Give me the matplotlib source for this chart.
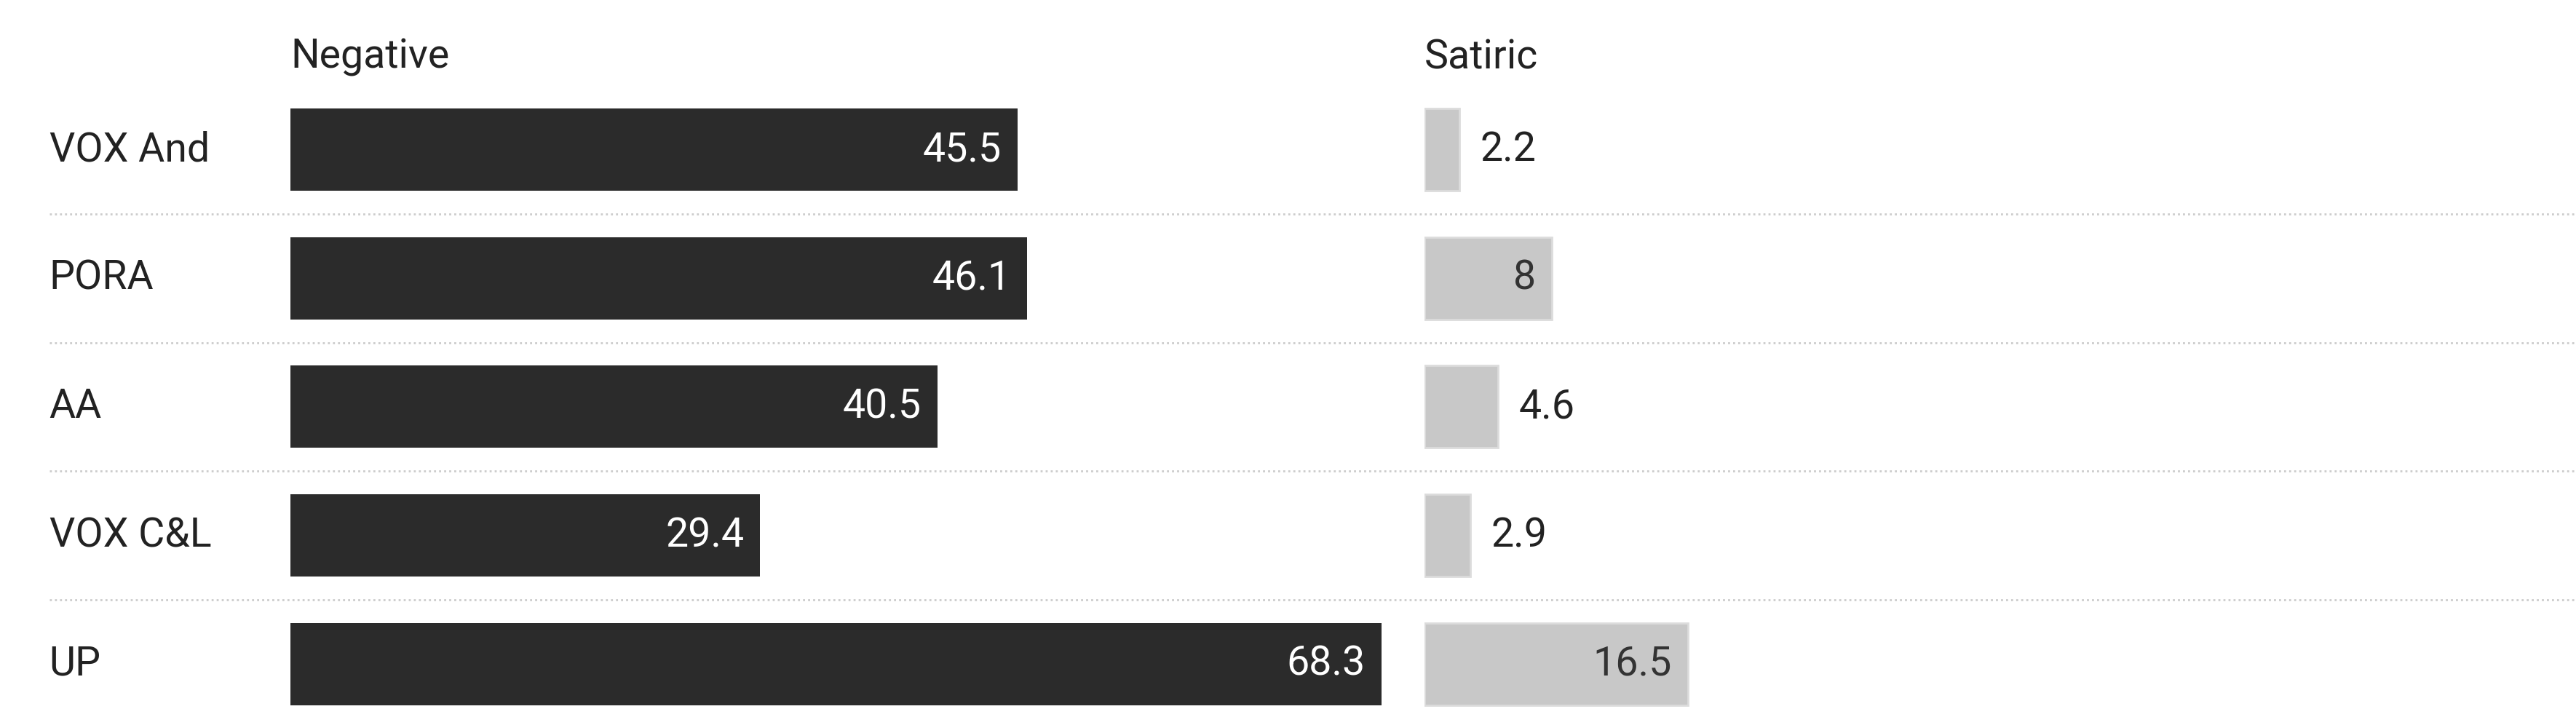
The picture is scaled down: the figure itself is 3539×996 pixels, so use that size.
import matplotlib
matplotlib.use("Agg")
import matplotlib.pyplot as plt
from matplotlib.transforms import blended_transform_factory as btf

plt.rcParams['font.family'] = ['Roboto', 'DejaVu Sans']
parties = ["VOX And", "PORA", "AA", "VOX C&L", "UP"]
negative = [45.5, 46.1, 40.5, 29.4, 68.3]
satiric = [2.2, 8, 4.6, 2.9, 16.5]

W, H = 1568, 441
fig = plt.figure(figsize=(35.39, 9.96), dpi=100)
fs = 40
top = 1 - 52 / H
bot = 1 - 443 / H
ax1 = fig.add_axes([177 / W, bot, 70 * 9.72 / W, top - bot])
ax2 = fig.add_axes([867 / W, bot, 72 * 9.72 / W, top - bot])
for ax in (ax1, ax2):
    ax.set_xlim(0, 70 if ax is ax1 else 72)
    ax.set_ylim(4.5, -0.5)
    ax.axis('off')

y = range(len(parties))
ax1.barh(y, negative, height=0.64, color='#2b2b2b')
ax2.barh(y, satiric, height=0.64, color='#c8c8c8', edgecolor='#dcdcdc', linewidth=2)
for i, v in enumerate(negative):
    ax1.text(v - 1.0, i, f"{v:g}", color='white', ha='right', va='center', fontsize=fs)
for i, v in enumerate(satiric):
    if v >= 6:
        ax2.text(v - 1.0, i, f"{v:g}", color='#333333', ha='right', va='center', fontsize=fs)
    else:
        ax2.text(v + 1.3, i, f"{v:g}", color='#222222', ha='left', va='center', fontsize=fs)
    fig.text(30 / W, 0, "")
for i, p in enumerate(parties):
    ax1.text((30 - 177) / (70 * 9.72), i, p, transform=btf(ax1.transAxes, ax1.transData),
             ha='left', va='center', fontsize=fs, color='#222222')
ax1.text(0, -0.72, "Negative", ha='left', va='center', fontsize=fs, color='#222222')
ax2.text(0, -0.72, "Satiric", ha='left', va='center', fontsize=fs, color='#222222')
tr = btf(ax1.transAxes, ax1.transData)
x0 = (30 - 177) / (70 * 9.72)
x1 = (1568 - 177) / (70 * 9.72)
for b in [0.5, 1.5, 2.5, 3.5]:
    ax1.plot([x0, x1], [b, b], transform=tr, clip_on=False, color='#cccccc',
             linestyle=(0, (1, 1.5)), linewidth=2)
fig.savefig("out.png", dpi=100)
